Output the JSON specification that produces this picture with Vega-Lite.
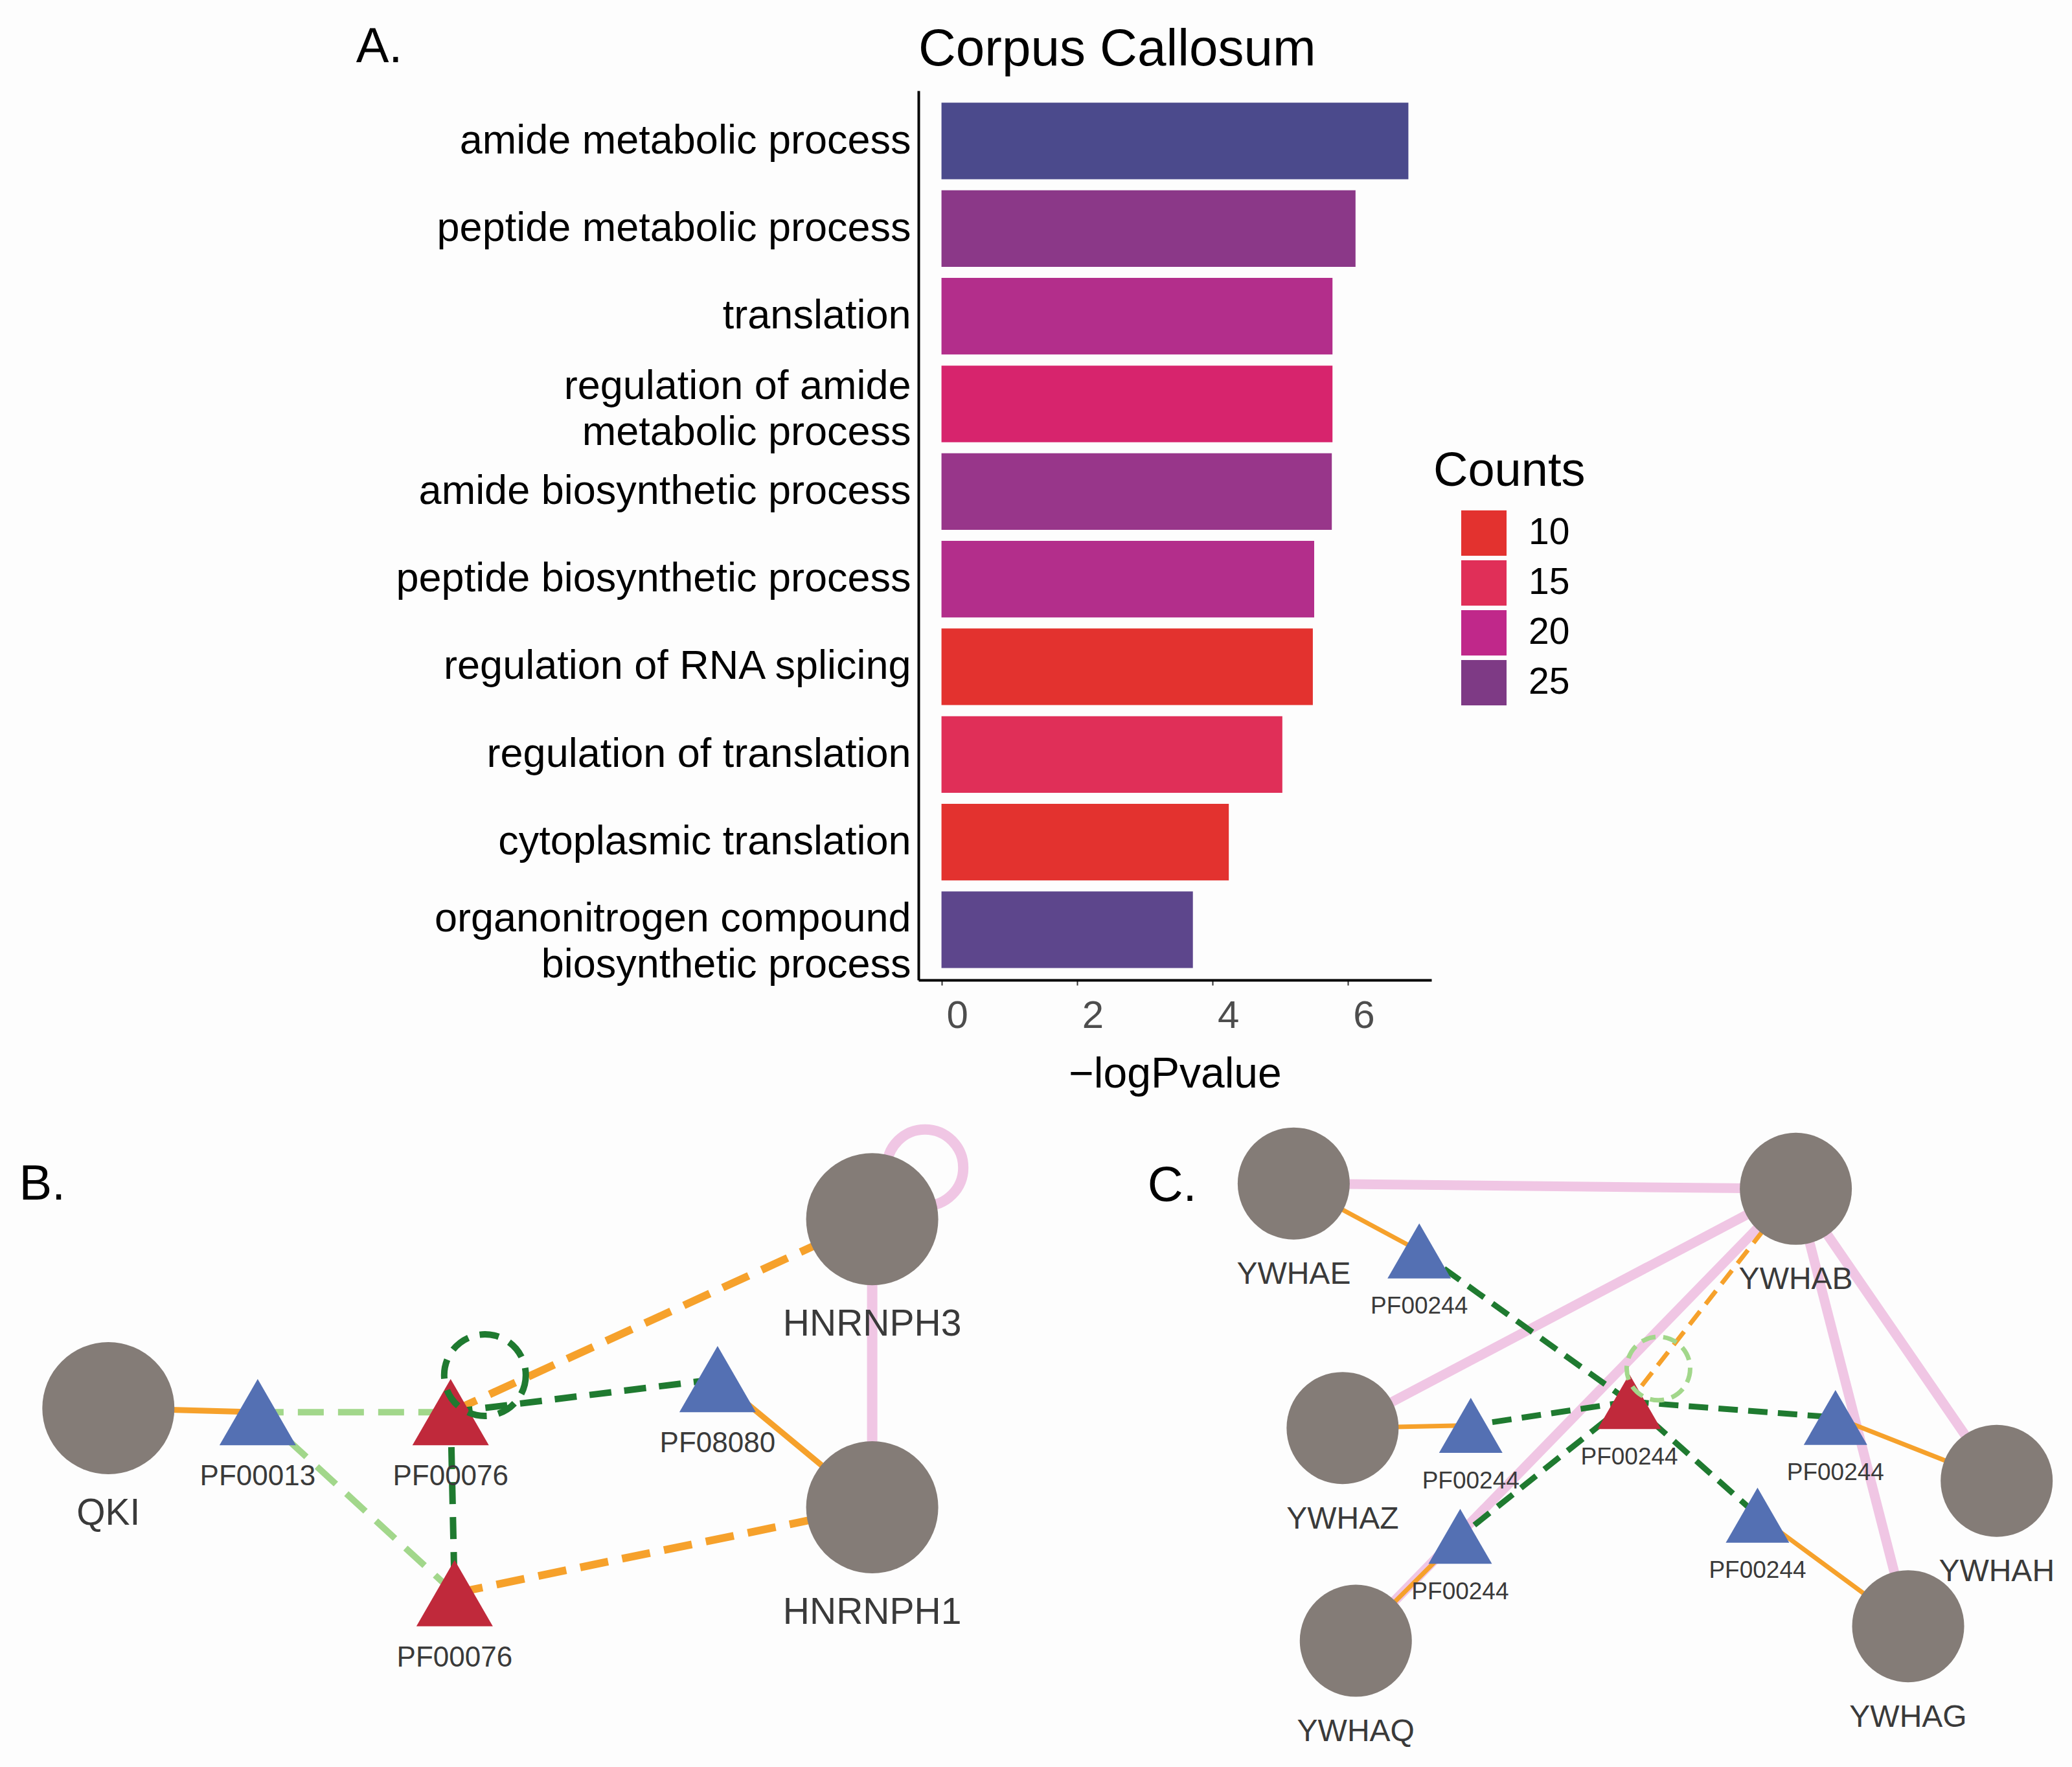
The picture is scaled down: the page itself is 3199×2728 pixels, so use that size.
{
  "$schema": "https://vega.github.io/schema/vega-lite/v6.json",
  "background": "#FDFDFD",
  "padding": {"left": 0, "top": 34, "right": 0, "bottom": 0},
  "config": {"view": {"stroke": null}, "font": "Liberation Sans"},
  "datasets": {
    "go": [
      {"term": "amide metabolic process", "logP": 6.89, "Counts": 31},
      {"term": "peptide metabolic process", "logP": 6.11, "Counts": 24},
      {"term": "translation", "logP": 5.77, "Counts": 21},
      {"term": "regulation of amide metabolic process", "logP": 5.77, "Counts": 17},
      {"term": "amide biosynthetic process", "logP": 5.76, "Counts": 23},
      {"term": "peptide biosynthetic process", "logP": 5.5, "Counts": 21},
      {"term": "regulation of RNA splicing", "logP": 5.48, "Counts": 10},
      {"term": "regulation of translation", "logP": 5.03, "Counts": 15},
      {"term": "cytoplasmic translation", "logP": 4.24, "Counts": 9},
      {"term": "organonitrogen compound biosynthetic process", "logP": 3.71, "Counts": 29}
    ],
    "nodesB": [
      {"id": "QKI", "label": "QKI", "kind": "protein", "x": 82, "y": 1065},
      {"id": "PF00013", "label": "PF00013", "kind": "domain", "x": 195, "y": 1068},
      {"id": "PF00076a", "label": "PF00076", "kind": "core", "x": 341, "y": 1068},
      {"id": "PF00076b", "label": "PF00076", "kind": "core", "x": 344, "y": 1205},
      {"id": "PF08080", "label": "PF08080", "kind": "domain", "x": 543, "y": 1043},
      {"id": "HNRNPH3", "label": "HNRNPH3", "kind": "protein", "x": 660, "y": 922},
      {"id": "HNRNPH1", "label": "HNRNPH1", "kind": "protein", "x": 660, "y": 1140}
    ],
    "edgesB": [
      {"edge": "b1", "kind": "ppi", "node": "HNRNPH3", "k": 0},
      {"edge": "b1", "kind": "ppi", "node": "HNRNPH1", "k": 1},
      {"edge": "b2", "kind": "pd", "node": "QKI", "k": 0},
      {"edge": "b2", "kind": "pd", "node": "PF00013", "k": 1},
      {"edge": "b3", "kind": "pd", "node": "PF08080", "k": 0},
      {"edge": "b3", "kind": "pd", "node": "HNRNPH1", "k": 1},
      {"edge": "b4", "kind": "pd_pred", "node": "PF00076a", "k": 0},
      {"edge": "b4", "kind": "pd_pred", "node": "HNRNPH3", "k": 1},
      {"edge": "b5", "kind": "pd_pred", "node": "PF00076b", "k": 0},
      {"edge": "b5", "kind": "pd_pred", "node": "HNRNPH1", "k": 1},
      {"edge": "b6", "kind": "ddi_low", "node": "PF00013", "k": 0},
      {"edge": "b6", "kind": "ddi_low", "node": "PF00076a", "k": 1},
      {"edge": "b7", "kind": "ddi_low", "node": "PF00013", "k": 0},
      {"edge": "b7", "kind": "ddi_low", "node": "PF00076b", "k": 1},
      {"edge": "b8", "kind": "ddi", "node": "PF00076a", "k": 0},
      {"edge": "b8", "kind": "ddi", "node": "PF00076b", "k": 1},
      {"edge": "b9", "kind": "ddi", "node": "PF00076a", "k": 0},
      {"edge": "b9", "kind": "ddi", "node": "PF08080", "k": 1}
    ],
    "loopsB": [
      {"node": "HNRNPH3", "kind": "ppi", "x": 700, "y": 883},
      {"node": "PF00076a", "kind": "ddi", "x": 367, "y": 1040}
    ],
    "nodesC": [
      {"id": "YWHAE", "label": "YWHAE", "kind": "protein", "x": 979, "y": 895},
      {"id": "YWHAB", "label": "YWHAB", "kind": "protein", "x": 1359, "y": 899},
      {"id": "YWHAZ", "label": "YWHAZ", "kind": "protein", "x": 1016, "y": 1080},
      {"id": "YWHAQ", "label": "YWHAQ", "kind": "protein", "x": 1026, "y": 1241},
      {"id": "YWHAH", "label": "YWHAH", "kind": "protein", "x": 1511, "y": 1120},
      {"id": "YWHAG", "label": "YWHAG", "kind": "protein", "x": 1444, "y": 1230},
      {"id": "TE", "label": "PF00244", "kind": "domain", "x": 1074, "y": 946},
      {"id": "TZ", "label": "PF00244", "kind": "domain", "x": 1113, "y": 1078},
      {"id": "TQ", "label": "PF00244", "kind": "domain", "x": 1105, "y": 1162},
      {"id": "TH", "label": "PF00244", "kind": "domain", "x": 1389, "y": 1072},
      {"id": "TG", "label": "PF00244", "kind": "domain", "x": 1330, "y": 1146},
      {"id": "RC", "label": "PF00244", "kind": "core", "x": 1233, "y": 1060}
    ],
    "edgesC": [
      {"edge": "c1", "kind": "ppi", "node": "YWHAE", "k": 0},
      {"edge": "c1", "kind": "ppi", "node": "YWHAB", "k": 1},
      {"edge": "c2", "kind": "ppi", "node": "YWHAB", "k": 0},
      {"edge": "c2", "kind": "ppi", "node": "YWHAZ", "k": 1},
      {"edge": "c3", "kind": "ppi", "node": "YWHAB", "k": 0},
      {"edge": "c3", "kind": "ppi", "node": "YWHAQ", "k": 1},
      {"edge": "c4", "kind": "ppi", "node": "YWHAB", "k": 0},
      {"edge": "c4", "kind": "ppi", "node": "YWHAH", "k": 1},
      {"edge": "c5", "kind": "ppi", "node": "YWHAB", "k": 0},
      {"edge": "c5", "kind": "ppi", "node": "YWHAG", "k": 1},
      {"edge": "c6", "kind": "pd", "node": "YWHAE", "k": 0},
      {"edge": "c6", "kind": "pd", "node": "TE", "k": 1},
      {"edge": "c7", "kind": "pd", "node": "YWHAZ", "k": 0},
      {"edge": "c7", "kind": "pd", "node": "TZ", "k": 1},
      {"edge": "c8", "kind": "pd", "node": "YWHAQ", "k": 0},
      {"edge": "c8", "kind": "pd", "node": "TQ", "k": 1},
      {"edge": "c9", "kind": "pd", "node": "YWHAH", "k": 0},
      {"edge": "c9", "kind": "pd", "node": "TH", "k": 1},
      {"edge": "c10", "kind": "pd", "node": "YWHAG", "k": 0},
      {"edge": "c10", "kind": "pd", "node": "TG", "k": 1},
      {"edge": "c11", "kind": "pd_pred", "node": "YWHAB", "k": 0},
      {"edge": "c11", "kind": "pd_pred", "node": "RC", "k": 1},
      {"edge": "c12", "kind": "ddi", "node": "RC", "k": 0},
      {"edge": "c12", "kind": "ddi", "node": "TE", "k": 1},
      {"edge": "c13", "kind": "ddi", "node": "RC", "k": 0},
      {"edge": "c13", "kind": "ddi", "node": "TZ", "k": 1},
      {"edge": "c14", "kind": "ddi", "node": "RC", "k": 0},
      {"edge": "c14", "kind": "ddi", "node": "TQ", "k": 1},
      {"edge": "c15", "kind": "ddi", "node": "RC", "k": 0},
      {"edge": "c15", "kind": "ddi", "node": "TH", "k": 1},
      {"edge": "c16", "kind": "ddi", "node": "RC", "k": 0},
      {"edge": "c16", "kind": "ddi", "node": "TG", "k": 1}
    ],
    "loopsC": [
      {"node": "RC", "kind": "ddi_low", "x": 1255, "y": 1035}
    ]
  },
  "bounds": "flush",
  "align": "none",
  "columns": 2,
  "spacing": {"row": 202, "column": 0},
  "concat": [
    {
      "width": 1418,
      "height": 1373,
      "data": {"values": [{"panel": "A.", "x": 287, "y": 35}]},
      "mark": {"type": "text", "fontSize": 76, "color": "black", "baseline": "middle"},
      "encoding": {
        "x": {"field": "x", "type": "quantitative", "scale": {"domain": [0, 695], "nice": false, "zero": false}, "axis": null},
        "y": {"field": "y", "type": "quantitative", "scale": {"domain": [68, 741], "nice": false, "zero": false, "reverse": true}, "axis": null},
        "text": {"field": "panel"}
      }
    },
    {
      "width": 792,
      "height": 1373,
      "data": {"name": "go"},
      "title": {"text": "Corpus Callosum", "anchor": "start", "frame": "group", "fontSize": 80, "fontWeight": "normal", "color": "black", "offset": 22},
      "mark": {"type": "bar"},
      "encoding": {
        "y": {
          "field": "term", "type": "nominal", "sort": null,
          "scale": {"paddingInner": 0.126, "paddingOuter": 0.136},
          "axis": {
            "title": null, "ticks": false, "domain": true, "domainColor": "black", "domainWidth": 4,
            "labelFontSize": 63, "labelColor": "black", "labelPadding": 12, "labelLimit": 1400, "labelLineHeight": 71,
            "labelExpr": "datum.value == 'regulation of amide metabolic process' ? ['regulation of amide', 'metabolic process'] : datum.value == 'organonitrogen compound biosynthetic process' ? ['organonitrogen compound', 'biosynthetic process'] : datum.label",
            "labelOffset": {"condition": [{"test": "datum.value == 'regulation of amide metabolic process'", "value": -27}, {"test": "datum.value == 'organonitrogen compound biosynthetic process'", "value": -16}], "value": 0}
          }
        },
        "x": {
          "field": "logP", "type": "quantitative",
          "scale": {"domain": [-0.34, 7.23], "nice": false, "zero": false},
          "axis": {
            "values": [0, 2, 4, 6], "grid": false, "ticks": true, "tickColor": "#333333", "tickSize": 8, "tickWidth": 2,
            "domainColor": "black", "domainWidth": 4,
            "labelFontSize": 60, "labelColor": "#4D4D4D", "labelPadding": 18, "labelOffset": 24,
            "title": "−logPvalue", "titleFontSize": 66, "titleFontWeight": "normal", "titleColor": "black", "titlePadding": 28
          }
        },
        "x2": {"datum": 0},
        "color": {
          "field": "Counts", "type": "quantitative",
          "scale": {"domain": [10, 15, 20, 25, 31], "range": ["#E3322F", "#E02F58", "#C0288A", "#7E3A85", "#4B4A8C"], "clamp": true},
          "legend": {
            "type": "symbol", "values": [10, 15, 20, 25], "orient": "none", "legendX": 2213, "legendY": 552,
            "title": "Counts", "titleFontSize": 74, "titleFontWeight": "normal", "titleColor": "black", "titleAnchor": "start", "titlePadding": 22, "titleLimit": 600,
            "symbolType": "square", "symbolSize": 4900, "symbolStrokeWidth": 0, "symbolOpacity": 1, "symbolOffset": 43,
            "labelFontSize": 57, "labelColor": "black", "labelOffset": 34, "rowPadding": 7, "padding": 0
          }
        }
      }
    },
    {
      "width": 1418,
      "height": 1016,
      "encoding": {
        "x": {"field": "x", "type": "quantitative", "scale": {"domain": [0, 695], "nice": false, "zero": false}, "axis": null},
        "y": {"field": "y", "type": "quantitative", "scale": {"domain": [840, 1338], "nice": false, "zero": false, "reverse": true}, "axis": null}
      },
      "layer": [
        {
          "data": {"name": "edgesB"},
          "transform": [{"filter": "datum.kind == 'ppi'"}, {"lookup": "node", "from": {"data": {"name": "nodesB"}, "key": "id", "fields": ["x", "y"]}}],
          "mark": {"type": "line", "color": "#F0C6E4", "strokeWidth": 16, "strokeCap": "butt"},
          "encoding": {"detail": {"field": "edge", "type": "nominal"}, "order": {"field": "k"}}
        },
        {
          "data": {"name": "edgesB"},
          "transform": [{"filter": "datum.kind == 'pd'"}, {"lookup": "node", "from": {"data": {"name": "nodesB"}, "key": "id", "fields": ["x", "y"]}}],
          "mark": {"type": "line", "color": "#F6A12B", "strokeWidth": 9, "strokeCap": "butt"},
          "encoding": {"detail": {"field": "edge", "type": "nominal"}, "order": {"field": "k"}}
        },
        {
          "data": {"name": "edgesB"},
          "transform": [{"filter": "datum.kind == 'pd_pred'"}, {"lookup": "node", "from": {"data": {"name": "nodesB"}, "key": "id", "fields": ["x", "y"]}}],
          "mark": {"type": "line", "color": "#F6A12B", "strokeWidth": 12, "strokeDash": [44, 22], "strokeCap": "butt"},
          "encoding": {"detail": {"field": "edge", "type": "nominal"}, "order": {"field": "k"}}
        },
        {
          "data": {"name": "edgesB"},
          "transform": [{"filter": "datum.kind == 'ddi_low'"}, {"lookup": "node", "from": {"data": {"name": "nodesB"}, "key": "id", "fields": ["x", "y"]}}],
          "mark": {"type": "line", "color": "#A2D78B", "strokeWidth": 10, "strokeDash": [40, 22], "strokeCap": "butt"},
          "encoding": {"detail": {"field": "edge", "type": "nominal"}, "order": {"field": "k"}}
        },
        {
          "data": {"name": "edgesB"},
          "transform": [{"filter": "datum.kind == 'ddi'"}, {"lookup": "node", "from": {"data": {"name": "nodesB"}, "key": "id", "fields": ["x", "y"]}}],
          "mark": {"type": "line", "color": "#1F7A30", "strokeWidth": 10, "strokeDash": [34, 20], "strokeCap": "butt"},
          "encoding": {"detail": {"field": "edge", "type": "nominal"}, "order": {"field": "k"}}
        },
        {
          "data": {"name": "loopsB"},
          "transform": [{"filter": "datum.kind == 'ppi'"}],
          "mark": {"type": "point", "shape": "circle", "filled": false, "size": 13924, "color": "#F0C6E4", "strokeWidth": 16, "opacity": 1}
        },
        {
          "data": {"name": "nodesB"},
          "transform": [{"filter": "datum.kind == 'protein'"}],
          "mark": {"type": "point", "shape": "circle", "filled": true, "size": 41616, "color": "#847C77", "opacity": 1}
        },
        {
          "data": {"name": "nodesB"},
          "transform": [{"filter": "datum.kind == 'domain'"}],
          "mark": {"type": "point", "shape": "triangle-up", "filled": true, "size": 13924, "color": "#5470B3", "opacity": 1}
        },
        {
          "data": {"name": "nodesB"},
          "transform": [{"filter": "datum.kind == 'core'"}],
          "mark": {"type": "point", "shape": "triangle-up", "filled": true, "size": 13924, "color": "#C0293B", "opacity": 1}
        },
        {
          "data": {"name": "loopsB"},
          "transform": [{"filter": "datum.kind == 'ddi'"}],
          "mark": {"type": "point", "shape": "circle", "filled": false, "size": 15876, "color": "#1F7A30", "strokeWidth": 10, "strokeDash": [30, 18], "opacity": 1}
        },
        {
          "data": {"name": "nodesB"},
          "transform": [{"filter": "datum.kind == 'protein'"}],
          "mark": {"type": "text", "fontSize": 57, "color": "#3A3A3A", "baseline": "middle", "dy": 163},
          "encoding": {"text": {"field": "label"}}
        },
        {
          "data": {"name": "nodesB"},
          "transform": [{"filter": "datum.kind != 'protein'"}],
          "mark": {"type": "text", "fontSize": 44, "color": "#3A3A3A", "baseline": "middle", "dy": 100},
          "encoding": {"text": {"field": "label"}}
        },
        {
          "data": {"values": [{"panel": "B.", "x": 32, "y": 896}]},
          "mark": {"type": "text", "fontSize": 76, "color": "black", "baseline": "middle"},
          "encoding": {"text": {"field": "panel"}}
        }
      ]
    },
    {
      "width": 1781,
      "height": 1016,
      "encoding": {
        "x": {"field": "x", "type": "quantitative", "scale": {"domain": [695, 1568], "nice": false, "zero": false}, "axis": null},
        "y": {"field": "y", "type": "quantitative", "scale": {"domain": [840, 1338], "nice": false, "zero": false, "reverse": true}, "axis": null}
      },
      "layer": [
        {
          "data": {"name": "edgesC"},
          "transform": [{"filter": "datum.kind == 'ppi'"}, {"lookup": "node", "from": {"data": {"name": "nodesC"}, "key": "id", "fields": ["x", "y"]}}],
          "mark": {"type": "line", "color": "#F0C6E4", "strokeWidth": 15, "strokeCap": "butt"},
          "encoding": {"detail": {"field": "edge", "type": "nominal"}, "order": {"field": "k"}}
        },
        {
          "data": {"name": "edgesC"},
          "transform": [{"filter": "datum.kind == 'pd'"}, {"lookup": "node", "from": {"data": {"name": "nodesC"}, "key": "id", "fields": ["x", "y"]}}],
          "mark": {"type": "line", "color": "#F6A12B", "strokeWidth": 7, "strokeCap": "butt"},
          "encoding": {"detail": {"field": "edge", "type": "nominal"}, "order": {"field": "k"}}
        },
        {
          "data": {"name": "edgesC"},
          "transform": [{"filter": "datum.kind == 'pd_pred'"}, {"lookup": "node", "from": {"data": {"name": "nodesC"}, "key": "id", "fields": ["x", "y"]}}],
          "mark": {"type": "line", "color": "#F6A12B", "strokeWidth": 7, "strokeDash": [26, 14], "strokeCap": "butt"},
          "encoding": {"detail": {"field": "edge", "type": "nominal"}, "order": {"field": "k"}}
        },
        {
          "data": {"name": "edgesC"},
          "transform": [{"filter": "datum.kind == 'ddi'"}, {"lookup": "node", "from": {"data": {"name": "nodesC"}, "key": "id", "fields": ["x", "y"]}}],
          "mark": {"type": "line", "color": "#1F7A30", "strokeWidth": 9, "strokeDash": [30, 16], "strokeCap": "butt"},
          "encoding": {"detail": {"field": "edge", "type": "nominal"}, "order": {"field": "k"}}
        },
        {
          "data": {"name": "nodesC"},
          "transform": [{"filter": "datum.kind == 'protein'"}],
          "mark": {"type": "point", "shape": "circle", "filled": true, "size": 29929, "color": "#847C77", "opacity": 1}
        },
        {
          "data": {"name": "nodesC"},
          "transform": [{"filter": "datum.kind == 'domain'"}],
          "mark": {"type": "point", "shape": "triangle-up", "filled": true, "size": 9604, "color": "#5470B3", "opacity": 1}
        },
        {
          "data": {"name": "nodesC"},
          "transform": [{"filter": "datum.kind == 'core'"}],
          "mark": {"type": "point", "shape": "triangle-up", "filled": true, "size": 9604, "color": "#C0293B", "opacity": 1}
        },
        {
          "data": {"name": "loopsC"},
          "mark": {"type": "point", "shape": "circle", "filled": false, "size": 9604, "color": "#A2D78B", "strokeWidth": 7, "strokeDash": [22, 12], "opacity": 1}
        },
        {
          "data": {"name": "nodesC"},
          "transform": [{"filter": "datum.kind == 'protein'"}],
          "mark": {"type": "text", "fontSize": 48, "color": "#3A3A3A", "baseline": "middle", "dy": 141},
          "encoding": {"text": {"field": "label"}}
        },
        {
          "data": {"name": "nodesC"},
          "transform": [{"filter": "datum.kind != 'protein'"}],
          "mark": {"type": "text", "fontSize": 37, "color": "#3A3A3A", "baseline": "middle", "dy": 86},
          "encoding": {"text": {"field": "label"}}
        },
        {
          "data": {"values": [{"panel": "C.", "x": 887, "y": 897}]},
          "mark": {"type": "text", "fontSize": 76, "color": "black", "baseline": "middle"},
          "encoding": {"text": {"field": "panel"}}
        }
      ]
    }
  ]
}
